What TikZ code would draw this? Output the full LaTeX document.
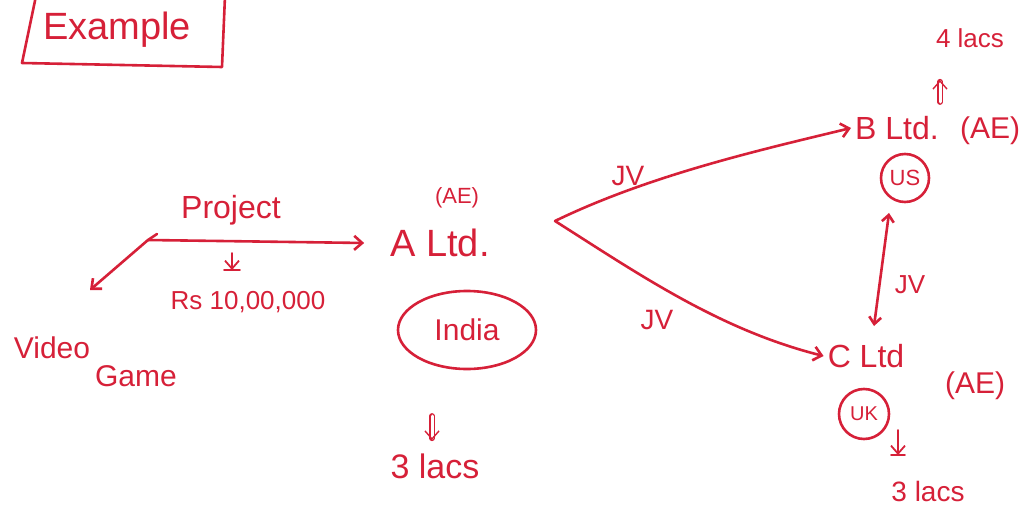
\documentclass[tikz,border=0pt]{standalone}
\usepackage{fontspec}
\setmainfont{Liberation Sans}
\usetikzlibrary{arrows.meta,shapes.geometric}
\definecolor{ink}{RGB}{214,32,56}
\tikzset{
  txt/.style={text=ink, inner sep=0pt, anchor=center},
  arr/.style={draw=ink, line width=2.6pt, line cap=round, -{Straight Barb[length=8pt,width=14pt]}},
  dbl/.style={draw=ink, line width=2.6pt, line cap=round, {Straight Barb[length=7pt,width=12pt]}-{Straight Barb[length=7pt,width=12pt]}},
  pen/.style={draw=ink, line width=2.6pt, line cap=round, line join=round},
  ring/.style={draw=ink, line width=2.6pt, text=ink},
  fs/.style={font=\fontsize{#1}{#1}\selectfont}
}
\begin{document}
\begin{tikzpicture}[x=1pt,y=-1pt]
\useasboundingbox (0,0) rectangle (1035,521);
% title box
\node[txt, fs=38] (example) at (117,30) {Example};
\draw[pen] (36,-4) -- (22,63) -- (222,67) -- (225,-4);
% left side
\node[txt, fs=32] (project) at (231,210) {Project};
\node[txt, fs=26] (rs) at (248,302) {Rs 10,00,000};
\node[txt, fs=30] (video) at (52,348) {Video};
\node[txt, fs=30] (game) at (136,376) {Game};
\coordinate (pl) at (148,240);
\coordinate (pdn) at (90,290);
\coordinate (p1) at (232,253);
\coordinate (p2) at (232,270);
% A Ltd
\node[txt, fs=22] (aae) at (457,198) {(AE)};
\node[txt, fs=38] (altd) at (440,243) {A Ltd.};
\node[ellipse, ring, minimum width=138pt, minimum height=78pt, inner sep=0pt, fs=30] (india) at (467,330) {India};
\coordinate (a1) at (432,416);
\coordinate (a2) at (432,440);
\node[txt, fs=34] (alacs) at (435,466) {3 lacs};
\coordinate (fork) at (555,221);
% JV labels
\node[txt, fs=28] (jv1) at (628,176) {JV};
\node[txt, fs=28] (jv2) at (657,320) {JV};
% B Ltd
\node[txt, fs=32] (bltd) at (897,128) {B Ltd.};
\node[txt, fs=30] (bae) at (990,131) {(AE)};
\node[circle, ring, minimum size=48pt, inner sep=0pt, fs=22] (us) at (905,178) {US};
\coordinate (b1) at (940,102);
\coordinate (b2) at (940,80);
\node[txt, fs=26] (blacs) at (970,38) {4 lacs};
% C Ltd
\node[txt, fs=32] (cltd) at (866,356) {C Ltd};
\node[txt, fs=30] (cae) at (975,386) {(AE)};
\node[circle, ring, minimum size=50pt, inner sep=0pt, fs=20] (uk) at (864,414) {UK};
\coordinate (c1) at (898,430);
\coordinate (c2) at (898,455);
\node[txt, fs=28] (clacs) at (928,491) {3 lacs};
\node[txt, fs=26] (jv3) at (910,285) {JV};
\coordinate (jt) at (889,213);
\coordinate (jb) at (874,326);
% connectors
\draw[arr] (pl) -- ([xshift=-26pt]altd.west);
\draw[arr] (pl) -- (pdn);
\draw[pen] (pl) -- ++(9,-6);
\draw[arr, line width=1.8pt] (p1) -- (p2);
\draw[pen, line width=1.8pt] ([xshift=-8pt]p2) -- ([xshift=8pt]p2);
\draw[arr, double, double distance=3pt, line width=1.4pt] (a1) -- (a2);
\draw[arr] (fork) .. controls (650,175) and (760,150) .. ([xshift=-4pt]bltd.west);
\draw[arr] (fork) .. controls (640,275) and (720,330) .. ([xshift=-4pt]cltd.west);
\draw[dbl] (jt) -- (jb);
\draw[arr, double, double distance=3pt, line width=1.4pt] (b1) -- (b2);
\draw[arr, line width=1.8pt] (c1) -- (c2);
\draw[pen, line width=1.8pt] ([xshift=-7pt]c2) -- ([xshift=7pt]c2);
\end{tikzpicture}
\end{document}
